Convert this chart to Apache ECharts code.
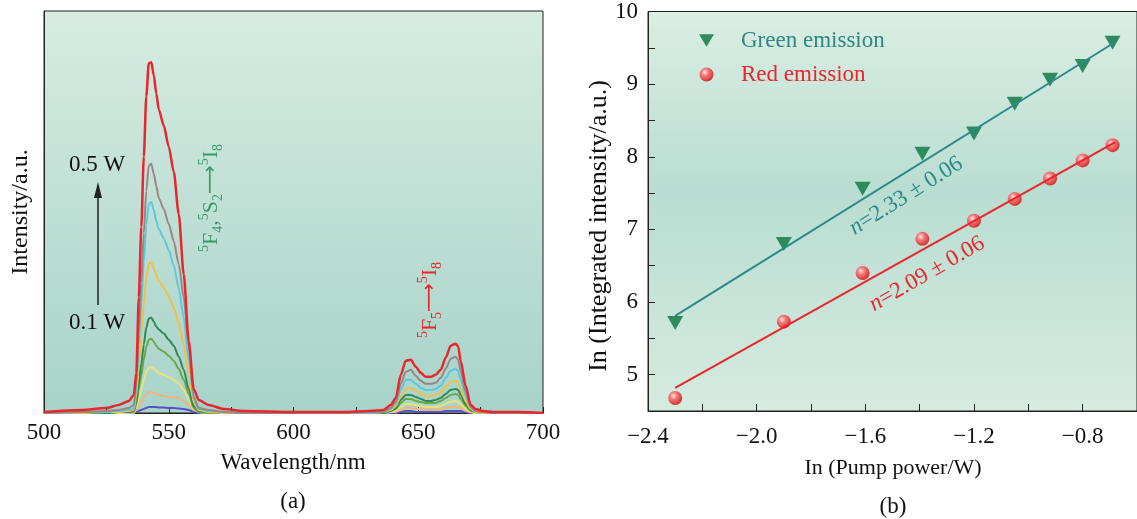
<!DOCTYPE html>
<html>
<head>
<meta charset="utf-8">
<script src="https://cdn.jsdelivr.net/npm/echarts@6/dist/echarts.min.js"></script>
<style>
html, body { margin: 0; padding: 0; background: #fff; }
#chart { width: 1137px; height: 519px; }
</style>
</head>
<body>
<div id="chart"></div>
<script>
// (a) emission spectra, one curve per pump power
const wavelength = [500, 515, 525, 530, 534, 536, 537, 538, 539, 540, 541, 542, 543, 544, 545, 546, 548, 550, 552, 554, 556, 558, 560, 562, 566, 572, 580, 600,
  620, 630, 636, 639, 641, 643, 645, 647, 649, 651, 653, 655, 657, 659, 661, 663, 665, 666, 667, 669, 671, 673, 676, 680, 690, 700]
const p010 = [0,0,0,0,0,0,1,2,3,4,5,6,6,6,6,5.5,5.5,5,5,4.5,4,3,1,0,0,0,0,0,
  0,0,0,0,0,1,2,2,1,1,1,1,1,1,2,2,2,2,2,1,0,0,0,0,0,0]
const p015 = [0,0,0,0,0,0,3,7,11,15,19,21,21,20,19,18,17,16,16,15,12,8,3,1,0,0,0,0,
  0,0,0,1,1,3,5,5,4,4,3,3,3,4,5,6,6,6,5,2,1,0,0,0,0,0]
const p020 = [0,0,0,0,1,1,6,15,24,33,41,45,46,44,42,40,38,36,33,29,23,14,4,1,0,0,0,0,
  0,0,0,1,3,6,9,9,8,7,6,6,6,7,9,11,12,11,9,5,1,0,0,0,0,0]
const p025 = [0,0,0,1,1,1,9,24,38,53,66,73,74,71,67,64,61,57,52,44,33,19,5,1,0,0,0,0,
  0,0,0,2,4,10,14,14,12,11,10,10,10,12,15,18,19,18,14,7,2,1,0,0,0,0]
const p030 = [0,0,0,1,1,2,11,30,49,68,85,94,95,91,86,83,79,73,67,56,43,24,7,2,1,0,0,0,
  0,0,0,2,5,13,18,18,16,14,12,12,13,15,19,23,24,23,18,9,3,1,0,0,0,0]
const p035 = [0,0,1,1,2,3,18,48,78,108,134,149,150,144,137,131,125,116,105,89,68,38,11,3,1,0,0,0,
  0,0,1,3,7,17,24,25,22,19,17,17,18,20,26,31,32,31,24,12,4,1,0,0,0,0]
const p040 = [0,1,1,2,3,4,25,67,109,151,187,208,210,202,191,183,174,162,147,124,95,53,15,4,2,1,0,0,
  0,0,1,4,9,23,33,33,29,25,23,23,24,27,35,42,44,42,33,17,5,2,1,0,0,0]
const p045 = [0,1,2,3,5,8,30,79,129,179,221,246,248,238,226,214,203,188,171,148,115,65,16,5,3,1,0,0,
  0,1,1,5,11,29,41,43,37,32,29,29,30,35,44,54,56,53,42,21,6,2,1,0,0,0]
const p050 = [1,3,5,8,12,18,40,115,185,255,315,348,349,336,318,302,286,265,240,198,138,72,24,13,8,4,2,1,
  1,2,3,8,15,38,52,53,46,40,36,36,38,43,55,67,69,66,52,27,8,4,2,1,1,0]

// (b) ln-ln power dependence
const lnPower = [-2.30, -1.90, -1.61, -1.39, -1.20, -1.05, -0.92, -0.80, -0.69]
const lnGreen = [5.71, 6.80, 7.56, 8.04, 8.32, 8.73, 9.06, 9.25, 9.57]
const lnRed = [4.68, 5.73, 6.40, 6.87, 7.12, 7.42, 7.70, 7.95, 8.16]
const greenFit = [[-2.30, 5.81], [-0.68, 9.58]]
const redFit = [[-2.30, 4.82], [-0.68, 8.20]]

const serif = '"Liberation Serif", "Times New Roman", serif'
const axisColor = '#222'

const spectra = [
  { name: '0.10 W', values: p010, color: '#5a4fc8' },
  { name: '0.15 W', values: p015, color: '#f4b57e' },
  { name: '0.20 W', values: p020, color: '#ece27c' },
  { name: '0.25 W', values: p025, color: '#6aa84a' },
  { name: '0.30 W', values: p030, color: '#2e8a56' },
  { name: '0.35 W', values: p035, color: '#f0c048' },
  { name: '0.40 W', values: p040, color: '#5ec8dc' },
  { name: '0.45 W', values: p045, color: '#9a8585' },
  { name: '0.50 W', values: p050, color: '#e8262d' }
]

const triPath = 'path://M0,0 L12,0 L6,10 Z'

function vgrad (stops) {
  return { type: 'linear', x: 0, y: 0, x2: 0, y2: 1, colorStops: stops }
}

const chart = echarts.init(document.getElementById('chart'))

let series = spectra.map(function (s) {
  return {
    name: s.name,
    type: 'line',
    xAxisIndex: 0,
    yAxisIndex: 0,
    data: wavelength.map(function (w, i) { return [w, s.values[i]] }),
    showSymbol: false,
    smooth: 0.25,
    smoothMonotone: 'x',
    lineStyle: { color: s.color, width: s.name === '0.50 W' ? 2.5 : 2 },
    itemStyle: { color: s.color },
    silent: true
  }
})

series.push(
  {
    name: 'greenFit', type: 'line', xAxisIndex: 1, yAxisIndex: 1,
    data: greenFit, showSymbol: false, lineStyle: { color: '#2b8a87', width: 2 }
  },
  {
    name: 'redFit', type: 'line', xAxisIndex: 1, yAxisIndex: 1,
    data: redFit, showSymbol: false, lineStyle: { color: '#e8262b', width: 2 }
  },
  {
    name: 'Green emission', type: 'scatter', xAxisIndex: 1, yAxisIndex: 1,
    data: lnPower.map(function (x, i) { return [x, lnGreen[i]] }),
    symbol: triPath, symbolSize: [16, 14],
    itemStyle: { color: '#2e8a5f', opacity: 1 }
  },
  {
    name: 'Red emission', type: 'scatter', xAxisIndex: 1, yAxisIndex: 1,
    data: lnPower.map(function (x, i) { return [x, lnRed[i]] }),
    symbol: 'circle', symbolSize: 14,
    itemStyle: {
      opacity: 1,
      color: {
        type: 'radial', x: 0.38, y: 0.35, r: 0.7,
        colorStops: [
          { offset: 0, color: '#ffe4e4' },
          { offset: 0.35, color: '#f47c7c' },
          { offset: 1, color: '#d22a2a' }
        ]
      }
    }
  }
)

function txt (text, x, y, size, color, rot, extra) {
  const el = {
    type: 'text', x: x, y: y, z: 100, rotation: rot || 0,
    style: Object.assign({
      text: text, fill: color, fontSize: size, fontFamily: serif,
      align: 'center', verticalAlign: 'middle'
    }, extra || {})
  }
  return el
}

const subSup = {
  sup: { fontSize: 14, fontFamily: serif, verticalAlign: 'top', lineHeight: 28 },
  sub: { fontSize: 14, fontFamily: serif, verticalAlign: 'bottom', lineHeight: 28 },
  arr: { fontSize: 20, fontFamily: '"DejaVu Sans", sans-serif', lineHeight: 28 },
  it: { fontSize: 23, fontFamily: serif, fontStyle: 'italic' }
}

const option = {
  animation: false,
  backgroundColor: '#fff',
  grid: [
    {
      left: 44, top: 11, width: 499, height: 402, show: true,
      borderColor: axisColor, borderWidth: 1,
      backgroundColor: vgrad([{ offset: 0, color: '#d6ece1' }, { offset: 1, color: '#a8d3c9' }])
    },
    {
      left: 648, top: 9, width: 500, height: 402, show: true,
      borderColor: axisColor, borderWidth: 1,
      backgroundColor: vgrad([
        { offset: 0, color: '#dbeee3' },
        { offset: 0.45, color: '#b9ddd2' },
        { offset: 1, color: '#d6ebdf' }
      ])
    }
  ],
  xAxis: [
    {
      gridIndex: 0, type: 'value', min: 500, max: 700, interval: 25,
      axisLine: { lineStyle: { color: axisColor } },
      axisTick: { inside: true, length: 6, lineStyle: { color: axisColor } },
      axisLabel: {
        formatter: function (v) { return v % 50 === 0 ? String(v) : '' },
        fontFamily: serif, fontSize: 23, color: '#111', margin: 8
      },
      splitLine: { show: false }
    },
    {
      gridIndex: 1, type: 'value', min: -2.4, max: -0.6, interval: 0.2,
      axisLine: { onZero: false, lineStyle: { color: axisColor } },
      axisTick: { inside: true, length: 7, lineStyle: { color: axisColor } },
      axisLabel: {
        formatter: function (v) {
          const k = Math.round(v * 10)
          if (k % 4 !== 0) return ''
          return (v < 0 ? '\u2212' : '') + Math.abs(v).toFixed(1)
        },
        fontFamily: serif, fontSize: 23, color: '#111', margin: 14,
        showMaxLabel: false
      },
      splitLine: { show: false }
    }
  ],
  yAxis: [
    {
      gridIndex: 0, type: 'value', min: 0, max: 400,
      axisLine: { show: true, lineStyle: { color: axisColor } },
      axisTick: { show: false }, axisLabel: { show: false },
      splitLine: { show: false }
    },
    {
      gridIndex: 1, type: 'value', min: 4.5, max: 10, interval: 0.5,
      axisLine: { show: true, onZero: false, lineStyle: { color: axisColor } },
      axisTick: { inside: true, length: 7, lineStyle: { color: axisColor } },
      axisLabel: {
        formatter: function (v) { return Number.isInteger(v) ? String(v) : '' },
        fontFamily: serif, fontSize: 23, color: '#111', margin: 10
      },
      splitLine: { show: false }
    }
  ],
  legend: {
    orient: 'vertical', left: 694, top: 24,
    itemWidth: 15, itemHeight: 14, itemGap: 11,
    textStyle: { fontFamily: serif, fontSize: 23, padding: [0, 0, 0, 22] },
    data: [
      { name: 'Green emission', icon: triPath, textStyle: { color: '#2d8782' } },
      { name: 'Red emission', icon: 'circle', textStyle: { color: '#e8262b' } }
    ]
  },
  graphic: [
    txt('Intensity/a.u.', 21, 212, 24, '#111', Math.PI / 2),
    txt('Wavelength/nm', 293, 463, 23, '#111'),
    txt('(a)', 293, 502, 23, '#111'),
    txt('In (Integrated intensity/a.u.)', 599, 226, 26, '#111', Math.PI / 2),
    txt('In (Pump power/W)', 893, 468, 22, '#111'),
    txt('(b)', 893, 507, 23, '#111'),
    txt('0.5 W', 97, 165, 23, '#111'),
    txt('0.1 W', 97, 323, 23, '#111'),
    {
      type: 'line', z: 100,
      shape: { x1: 98, y1: 305, x2: 98, y2: 195 },
      style: { stroke: '#222', lineWidth: 1.5 }
    },
    {
      type: 'polygon', z: 100,
      shape: { points: [[98, 182], [94, 198], [102, 198]] },
      style: { fill: '#222' }
    },
    txt('{sup|5}F{sub|4},{sup|5}S{sub|2}{arr|\u27f6}{sup|5}I{sub|8}', 211, 198, 22, '#3a9a6c', Math.PI / 2,
      { rich: subSup, lineHeight: 28 }),
    txt('{sup|5}F{sub|5}{arr|\u27f6}{sup|5}I{sub|8}', 430, 300, 22, '#e8262b', Math.PI / 2,
      { rich: subSup, lineHeight: 28 }),
    txt('{it|n}=2.33 \u00b1 0.06', 906, 196, 23, '#2b8a87', 32 * Math.PI / 180, { rich: subSup }),
    txt('{it|n}=2.09 \u00b1 0.06', 927, 274, 23, '#e8262b', 30 * Math.PI / 180, { rich: subSup })
  ],
  series: series
}

chart.setOption(option)
</script>
</body>
</html>
